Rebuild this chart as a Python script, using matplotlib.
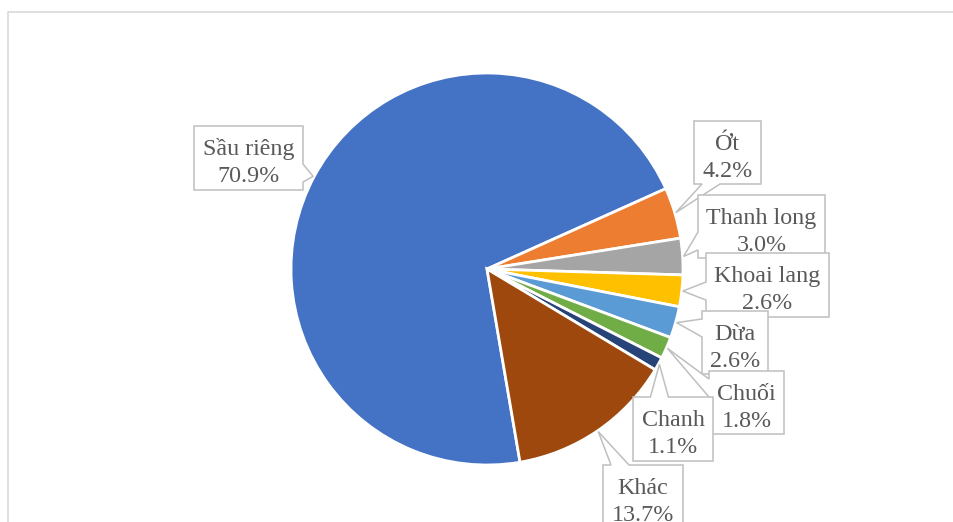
import numpy as np
import matplotlib
matplotlib.use('Agg')
import matplotlib.pyplot as plt
from matplotlib.patches import Polygon

# share of each product
labels = ['Sầu riêng', 'Ớt', 'Thanh long', 'Khoai lang', 'Dừa', 'Chuối', 'Chanh', 'Khác']
shares = [70.9, 4.2, 3.0, 2.6, 2.6, 1.8, 1.1, 13.7]
colors = ['#4472C4', '#ED7D31', '#A5A5A5', '#FFC000', '#5B9BD5', '#70AD47', '#264478', '#9E480E']

# callout boxes (left, top, right, bottom) in pixels from the top-left corner
boxes = [(194, 126, 303, 190), (694, 121, 761, 184), (698, 195, 825, 258),
         (706, 253, 829, 317), (702, 311, 768, 374), (709, 371, 784, 434),
         (633, 397, 713, 461), (603, 465, 683, 529)]

W, H = 954, 522
cx, cy, R = 487, 269, 196

fig = plt.figure(figsize=(W / 100, H / 100), dpi=100)
ax = fig.add_axes([0, 0, 1, 1])

wedges, _ = ax.pie(shares, colors=colors, startangle=-80.3, counterclock=False,
                   radius=R, center=(cx, H - cy),
                   wedgeprops=dict(edgecolor='white', linewidth=2))
ax.set_xlim(0, W)
ax.set_ylim(0, H)
ax.set_aspect('auto')
ax.axis('off')

# chart area border
ax.plot([8.5, 8.5, W + 10], [-10, H - 11.5, H - 11.5], color='#d9d9d9', lw=1.2,
        solid_capstyle='butt', zorder=0)


def callout(box, tip, z, base=18, pad=8):
    l, t, r, b = box
    tx, ty = tip
    # which side of the box the pointer leaves from
    d = {'left': l - tx, 'right': tx - r, 'top': t - ty, 'bottom': ty - b}
    side = max(d, key=d.get)
    if side in ('top', 'bottom'):
        s = min(max(tx - base / 2, l + pad), r - pad - base)
        b1, b2 = s, s + base
    else:
        s = min(max(ty - base / 2, t + pad), b - pad - base)
        b1, b2 = s, s + base
    pts = [(l, t)]
    if side == 'top':
        pts += [(b1, t), (tx, ty), (b2, t)]
    pts += [(r, t)]
    if side == 'right':
        pts += [(r, b1), (tx, ty), (r, b2)]
    pts += [(r, b)]
    if side == 'bottom':
        pts += [(b2, b), (tx, ty), (b1, b)]
    pts += [(l, b)]
    if side == 'left':
        pts += [(l, b2), (tx, ty), (l, b1)]
    pts = [(x, H - y) for x, y in pts]
    ax.add_patch(Polygon(pts, closed=True, facecolor='white', edgecolor='#bfbfbf',
                         lw=1.1, zorder=z, joinstyle='miter'))


for i, (w, name, val, box) in enumerate(zip(wedges, labels, shares, boxes)):
    mid = np.deg2rad((w.theta1 + w.theta2) / 2)
    tip = (cx + (R + 1) * np.cos(mid), cy - (R + 1) * np.sin(mid))
    z = 5 + i * 2
    callout(box, tip, z)
    l, t, r, b = box
    xc = (l + r) / 2
    ax.text(xc, H - (t + 29), name, ha='center', va='baseline', fontsize=17.3,
            family='Liberation Serif', color='#595959', zorder=z + 1)
    ax.text(xc, H - (t + 56), f'{val:.1f}%', ha='center', va='baseline', fontsize=17.3,
            family='Liberation Serif', color='#595959', zorder=z + 1)

fig.savefig('out.png', dpi=100)
